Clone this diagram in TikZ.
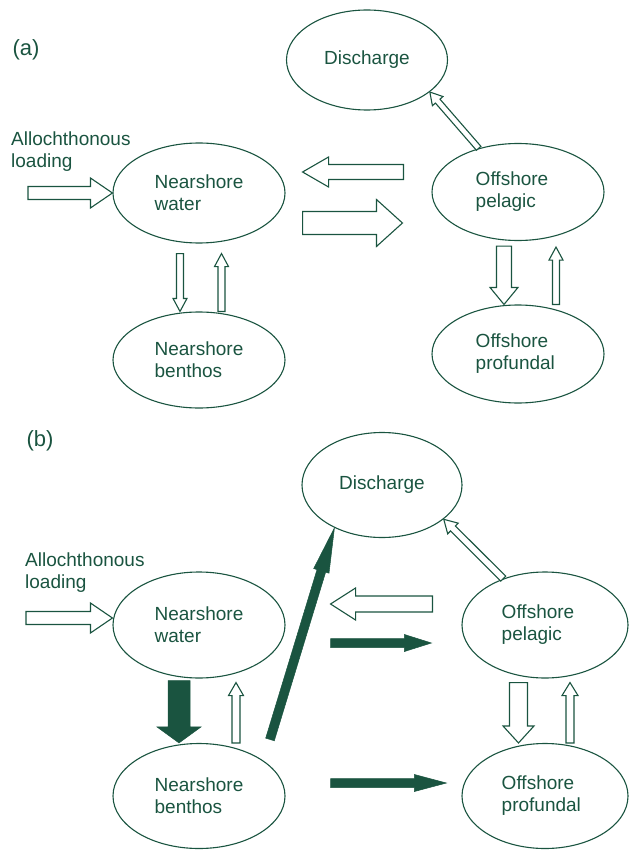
\documentclass[tikz,border=0pt]{standalone}
\usepackage{fontspec}
\setmainfont{Liberation Sans}
\usepackage{tikz}
\usetikzlibrary{shapes.geometric,calc}
\definecolor{dgreen}{RGB}{26,84,64}
\tikzset{
  pool/.style={ellipse,draw=dgreen,line width=1.1pt,text=dgreen,inner sep=0pt,align=left,font=\fontsize{19}{22}\selectfont},
  lbl/.style={text=dgreen,align=left,inner sep=0pt,font=\fontsize{19}{22}\selectfont},
  hollow/.style={draw=dgreen,line width=1.1pt,fill=white,line join=miter},
  solid/.style={draw=dgreen,fill=dgreen,line width=0.5pt,line join=miter},
  blk/.style n args={3}{to path={
    let \p1=($(\tikztotarget)-(\tikztostart)$), \n1={atan2(\y1,\x1)}, \n2={veclen(\x1,\y1)} in
    {[shift={(\tikztostart)},rotate=\n1]
    (0pt,-#1pt) -- (\n2-#3pt,-#1pt) -- (\n2-#3pt,-#2pt) -- (\n2,0pt)
    -- (\n2-#3pt,#2pt) -- (\n2-#3pt,#1pt) -- (0pt,#1pt) -- cycle}
  }}
}
\begin{document}
\begin{tikzpicture}[x=1pt,y=1pt]
\useasboundingbox (0,0) rectangle (629,-850) ;
\node (la) [lbl,font=\fontsize{22}{24}\selectfont] at (26,-50) {(a)} ;
\node (dis) [pool,minimum width=161pt,minimum height=100pt] at (367,-60) {Discharge} ;
\node (nw) [pool,minimum width=172pt,minimum height=100pt] at (199,-193) {Nearshore\\water} ;
\node (nb) [pool,minimum width=172pt,minimum height=96pt] at (199,-360) {Nearshore\\benthos} ;
\node (op) [pool,minimum width=172pt,minimum height=97pt] at (518,-192) {Offshore\hspace*{12pt}\\pelagic} ;
\node (opf) [pool,minimum width=172pt,minimum height=98pt] at (518,-354) {Offshore\hspace*{12pt}\\profundal} ;
\node (al) [lbl,anchor=north west] at (11,-132) {Allochthonous\\loading} ;
\coordinate (a1) at (28,-193) ;
\coordinate (a2) at ($(op.west)+(-28,20)$) ;
\coordinate (a3) at ($(nw.east)+(17,21)$) ;
\coordinate (a4) at ($(nw.east)+(17,-30)$) ;
\coordinate (a5) at ($(op.west)+(-29,-31)$) ;
\coordinate (a6) at ($(nw.south)+(-19,-10)$) ;
\coordinate (a7) at (a6 |- nb.north) ;
\coordinate (a8) at ($(nb.north)+(22.5,0)$) ;
\coordinate (a9) at ($(nw.south)+(22.5,-10)$) ;
\coordinate (a10) at ($(op.south)+(-14,-5)$) ;
\coordinate (a11) at (a10 |- opf.north) ;
\coordinate (a12) at ($(opf.north)+(38,0)$) ;
\coordinate (a13) at ($(op.south)+(38,-6)$) ;
\draw [hollow] (a1) to[blk={6.5}{15}{22}] (nw.west) ;
\draw [hollow] (a2) to[blk={7.5}{15}{26}] (a3) ;
\draw [hollow] (a4) to[blk={11.5}{23.5}{26}] (a5) ;
\draw [hollow] (op.132) to[blk={3}{7}{12}] (dis.333) ;
\draw [hollow] (a6) to[blk={3.5}{7}{13}] (a7) ;
\draw [hollow] (a8) to[blk={3.5}{7}{13}] (a9) ;
\draw [hollow] (a10) to[blk={7.5}{14}{17}] (a11) ;
\draw [hollow] (a12) to[blk={3.5}{7}{13}] (a13) ;
\node (lb) [lbl,font=\fontsize{22}{24}\selectfont] at (40,-441) {(b)} ;
\node (dis2) [pool,minimum width=160pt,minimum height=105pt] at (382,-485) {Discharge} ;
\node (nw2) [pool,minimum width=172pt,minimum height=106pt] at (199,-625) {Nearshore\\water} ;
\node (nb2) [pool,minimum width=172pt,minimum height=105pt] at (199,-796) {Nearshore\\benthos} ;
\node (op2) [pool,minimum width=166pt,minimum height=106pt] at (545,-625) {Offshore\hspace*{14pt}\\pelagic} ;
\node (opf2) [pool,minimum width=166pt,minimum height=105pt] at (545,-796) {Offshore\hspace*{14pt}\\profundal} ;
\node (al2) [lbl,anchor=north west] at (25,-553) {Allochthonous\\loading} ;
\coordinate (b1) at (26,-618) ;
\coordinate (b2) at (nw2.west |- b1) ;
\coordinate (b3) at ($(op2.west)+(-29,21)$) ;
\coordinate (b4) at ($(nw2.east)+(45,21)$) ;
\coordinate (b5) at ($(nw2.east)+(45,-18)$) ;
\coordinate (b6) at ($(op2.west)+(-30,-18)$) ;
\coordinate (b7) at ($(nb2.north)+(71,3.5)$) ;
\coordinate (b9) at ($(nw2.south)+(-20,-2)$) ;
\coordinate (b10) at (b9 |- nb2.north) ;
\coordinate (b11) at ($(nb2.north)+(37,0)$) ;
\coordinate (b12) at ($(nw2.south)+(37,-4)$) ;
\coordinate (b13) at ($(nb2.east)+(45,13)$) ;
\coordinate (b14) at ($(opf2.west)+(-15,13)$) ;
\coordinate (b15) at ($(op2.south)+(-26.5,-4)$) ;
\coordinate (b16) at (b15 |- opf2.north) ;
\coordinate (b17) at ($(opf2.north)+(25,0)$) ;
\coordinate (b18) at ($(op2.south)+(25,-4)$) ;
\draw [hollow] (b1) to[blk={6.5}{15}{22}] (b2) ;
\draw [hollow] (b3) to[blk={8}{16}{25}] (b4) ;
\draw [solid] (b5) to[blk={4.5}{8.5}{27}] (b6) ;
\draw [hollow] (op2.132) to[blk={3.5}{7.5}{13}] (dis2.331) ;
\draw [solid] (b7) to[blk={4.5}{8}{45}] (dis2.222) ;
\draw [solid] (b9) to[blk={11}{22}{16}] (b10) ;
\draw [hollow] (b11) to[blk={4}{7.5}{13}] (b12) ;
\draw [solid] (b13) to[blk={4.5}{8.5}{32}] (b14) ;
\draw [hollow] (b15) to[blk={9}{15.5}{17}] (b16) ;
\draw [hollow] (b17) to[blk={4}{8}{13}] (b18) ;
\end{tikzpicture}
\end{document}
